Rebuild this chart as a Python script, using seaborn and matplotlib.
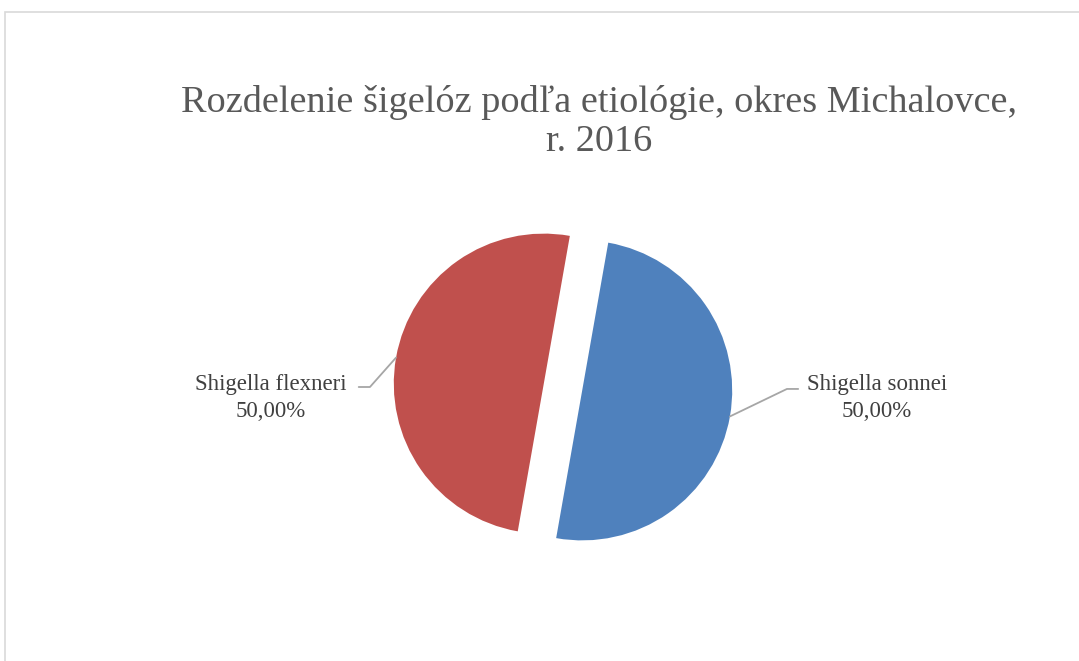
import numpy as np
import matplotlib
matplotlib.use("Agg")
import matplotlib.pyplot as plt
import seaborn as sns
from matplotlib.patches import Rectangle

# chart data
labels = ["Shigella sonnei", "Shigella flexneri"]
shares = [50.0, 50.0]
colors = ["#4F81BD", "#C0504D"]
title = "Rozdelenie šigelóz podľa etiológie, okres Michalovce,\nr. 2016"

sns.set_theme(style="white")
plt.rcParams['font.family'] = ['Liberation Serif', 'DejaVu Serif']

W, H, R = 1079, 661, 150.0
cx, cy = 563, 387  # pie centre in pixels (from top-left)

fig = plt.figure(figsize=(W / 100, H / 100), dpi=100)
ax = fig.add_axes([0, 0, 1, 1])

explode = [0.13, 0.13]
start = 80
wedges, _ = ax.pie(shares, colors=colors, startangle=start, counterclock=False,
                   explode=explode, radius=1.0, frame=True,
                   wedgeprops=dict(linewidth=0))
ax.set_xlim(-cx / R, (W - cx) / R)
ax.set_ylim(-(H - cy) / R, cy / R)
ax.set_aspect("equal")
ax.axis("off")

# data labels with leader lines
total = sum(shares)
ang0 = start
text_x = {1: 2.093, -1: -1.947}
elbow_x = {1: 1.493, -1: -1.287}
elbow_y = {1: -0.013, -1: 0.0}
for i, (lab, val) in enumerate(zip(labels, shares)):
    mid = np.deg2rad(ang0 - val / total * 360 / 2)
    ang0 -= val / total * 360
    d = 1.0 + explode[i]
    px, py = d * np.cos(mid), d * np.sin(mid)
    side = 1 if np.cos(mid) > 0 else -1
    ex, ey = elbow_x[side], elbow_y[side]
    ax.plot([px, ex, ex + 0.075 * side], [py, ey, ey], color="#A6A6A6", lw=1.3)
    ax.text(text_x[side], -0.073,
            f"{lab}\n{val:.2f}%".replace(".", ","),
            ha="center", va="center", fontsize=16.5, color="#404040",
            linespacing=1.32)

fig.text(599 / W, 1 - 122 / H, title, ha="center", va="center",
         fontsize=27.5, color="#595959", linespacing=1.18)

# chart area border
fig.patches.append(Rectangle((4.5 / W, -0.1), 1.1, 1 - 12.5 / H + 0.1,
                             transform=fig.transFigure, fill=False,
                             edgecolor="#D9D9D9", lw=1.2))

plt.savefig("out.png", dpi=100)
